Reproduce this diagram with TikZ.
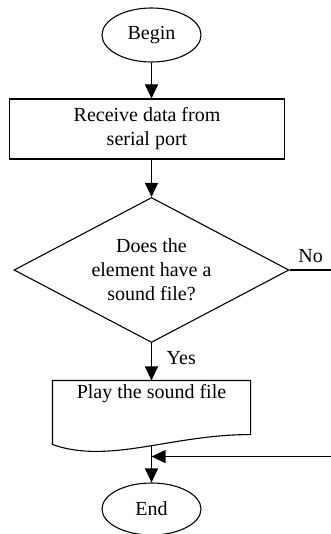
\documentclass[tikz,border=0pt]{standalone}
\usepackage{fontspec}
\setmainfont{Liberation Serif}
\usetikzlibrary{arrows.meta}
\usetikzlibrary{shapes.geometric}
\usetikzlibrary{calc}

\begin{document}
\begin{tikzpicture}[>={Triangle[length=7pt,width=6.5pt]},line width=0.55pt,
    terminal/.style={draw,ellipse,minimum width=49.5pt,minimum height=27pt,inner sep=0pt},
    process/.style={draw,rectangle,minimum width=137.5pt,minimum height=30pt,align=center},
    decision/.style={draw,diamond,aspect=2,inner sep=0pt,minimum width=137.5pt,minimum height=72.5pt,align=center},
    document/.style={rectangle,minimum width=98.5pt,inner sep=2pt,text height=6.5pt,text depth=16pt}]

      \useasboundingbox (0,0) rectangle (165.5pt,-267pt);

      \node (begin) [terminal] at (75.75pt,-17.5pt) {Begin};
      \node (recv) [process,below of=begin,node distance=47pt,xshift=-2.25pt] {Receive data from\\serial port};
      \node (sound) [decision,below of=begin,node distance=117.5pt] {Does the\\element have a\\sound file?};
      \node (play) [document,below of=sound,node distance=68.75pt] {Play the sound file};
      \node (end) [terminal,below of=play,node distance=50.75pt,minimum height=26pt] {End};

      % document shape with wavy bottom
      \draw (play.north west) -- (play.north east) -- (play.south east)
        .. controls +(-40pt,0pt) and ($(play.south west)+(28.5pt,-15pt)$) .. ($(play.south west)+(0,-5pt)$) -- cycle;

      \coordinate (wave) at ($(play.south)+(0,-5.5pt)$);
      \coordinate (join) at ($(play.south)+(0,-11pt)$);
      \coordinate (noturn) at ($(sound.east)+(30pt,0)$);

      \path[->]
        (begin) edge (begin |- recv.north)
        (recv.south -| sound) edge (sound)
        (sound) edge node[right,pos=0.4,xshift=4pt] {Yes} (play)
        (wave) edge (end);

      \draw[->] (sound.east) -- node[above,pos=0.35] {No} (noturn) |- (join);
\end{tikzpicture}
\end{document}
